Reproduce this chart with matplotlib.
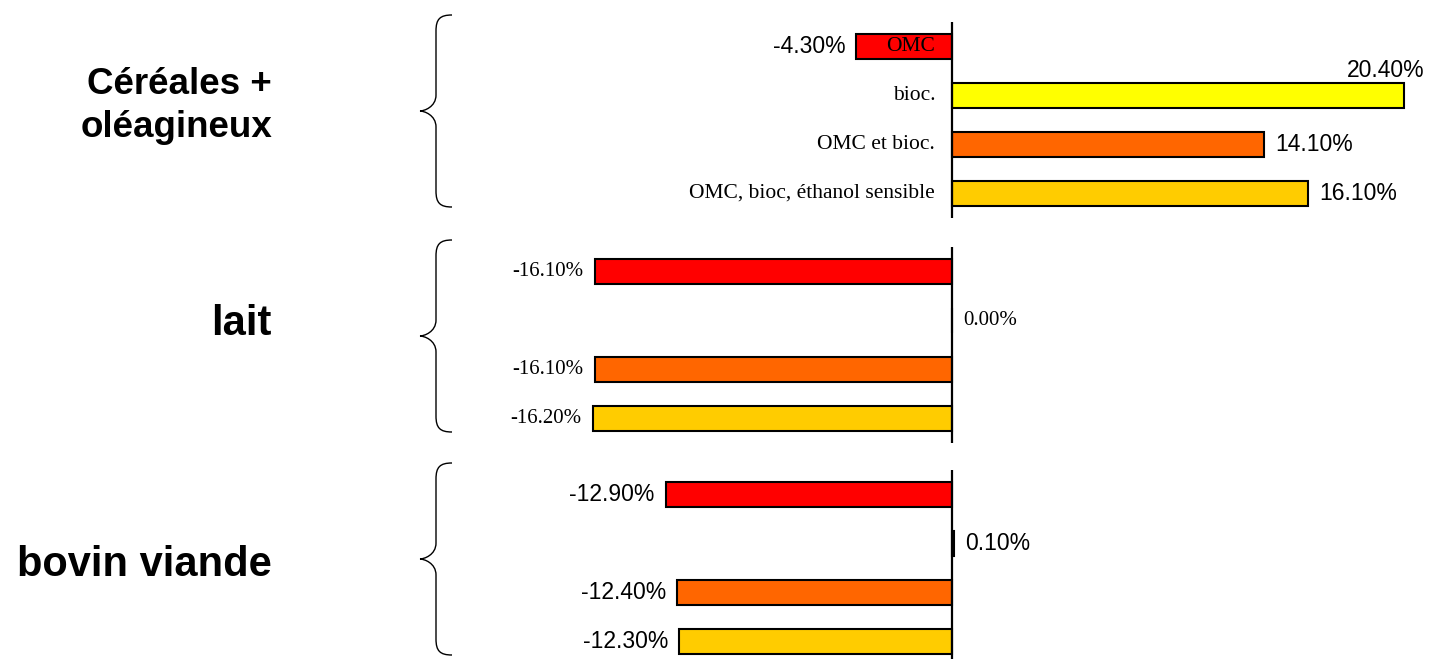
import matplotlib
matplotlib.use("Agg")
import matplotlib.pyplot as plt
from matplotlib.path import Path
from matplotlib.patches import PathPatch

# scenarios (same order in every block)
scenarios = ["OMC", "bioc.", "OMC et bioc.", "OMC, bioc, éthanol sensible"]
scenario_colors = ["#FF0000", "#FFFF00", "#FF6600", "#FFCC00"]

groups = ["Céréales +\noléagineux", "lait", "bovin viande"]
cereales = [-4.3, 20.4, 14.1, 16.1]
lait = [-16.1, 0.0, -16.1, -16.2]
bovin = [-12.9, 0.1, -12.4, -12.3]
values = [cereales, lait, bovin]

W, H = 1429, 659
SANS = "Liberation Sans"
SERIF = "Liberation Serif"

# per-block layout: top of panel in px, label font of the values, group title
panel_tops = [22, 247, 470]
panel_h = 196
value_fonts = [SANS, SERIF, SANS]
group_label_y = [106, 324, 565]
group_label_size = [26.5, 30, 30]
xmin, xmax = -20.0, 21.5
zero_px = 951.7
px_per_unit = 22.16


def px_to_fig(x, y):
    return x / W, 1 - y / H


def draw_brace(fig, top, bottom, x_end=452, x_mid=436, x_tip=420, r=16):
    tip = (top + bottom) / 2
    pts = [
        (x_end, top),
        (x_mid + 4, top), (x_mid, top + 4), (x_mid, top + r),
        (x_mid, tip - r),
        (x_mid, tip - 4), (x_tip + 4, tip), (x_tip, tip),
        (x_tip + 4, tip), (x_mid, tip + 4), (x_mid, tip + r),
        (x_mid, bottom - r),
        (x_mid, bottom - 4), (x_mid + 4, bottom), (x_end, bottom),
    ]
    codes = [Path.MOVETO,
             Path.CURVE4, Path.CURVE4, Path.CURVE4,
             Path.LINETO,
             Path.CURVE4, Path.CURVE4, Path.CURVE4,
             Path.CURVE4, Path.CURVE4, Path.CURVE4,
             Path.LINETO,
             Path.CURVE4, Path.CURVE4, Path.CURVE4]
    path = Path([px_to_fig(x, y) for x, y in pts], codes)
    fig.patches.append(PathPatch(path, fill=False, lw=1.0, ec="black",
                                 transform=fig.transFigure))


fig = plt.figure(figsize=(W / 100, H / 100), dpi=100)
left_px = zero_px + xmin * px_per_unit
width_px = (xmax - xmin) * px_per_unit

for i, vals in enumerate(values):
    top = panel_tops[i]
    ax = fig.add_axes([left_px / W, 1 - (top + panel_h) / H,
                       width_px / W, panel_h / H])
    rows = list(range(len(scenarios)))
    ax.barh(rows, vals, height=0.51, color=scenario_colors,
            edgecolor="black", linewidth=1.5, clip_on=False, zorder=2)
    ax.axvline(0, color="black", lw=1.6, zorder=3)
    ax.set_xlim(xmin, xmax)
    ax.set_ylim(len(scenarios) - 0.5, -0.5)
    ax.axis("off")

    fam = value_fonts[i]
    size = 16.5 if fam == SANS else 15
    for r, v in zip(rows, vals):
        txt = f"{v:.2f}%"
        if v > 0.9 * xmax:
            ax.text(v + 0.95, r - 0.28, txt, ha="right", va="bottom",
                    family=fam, fontsize=size, zorder=4)
        elif v < 0:
            ax.text(v - 0.5, r, txt, ha="right", va="center",
                    family=fam, fontsize=size, zorder=4)
        else:
            ax.text(v + 0.5, r, txt, ha="left", va="center",
                    family=fam, fontsize=size, zorder=4)

    # scenario names only on the first block
    if i == 0:
        for r, name in zip(rows, scenarios):
            ax.text(-0.75, r, name, ha="right", va="center",
                    family=SERIF, fontsize=15.5, zorder=4)

    draw_brace(fig, top - 7, top + panel_h - 11)
    gx, gy = px_to_fig(272, group_label_y[i])
    fig.text(gx, gy, groups[i], ha="right", va="center", family=SANS,
             fontweight="bold", fontsize=group_label_size[i],
             linespacing=1.3, multialignment="right")

fig.savefig("out.png", dpi=100)
